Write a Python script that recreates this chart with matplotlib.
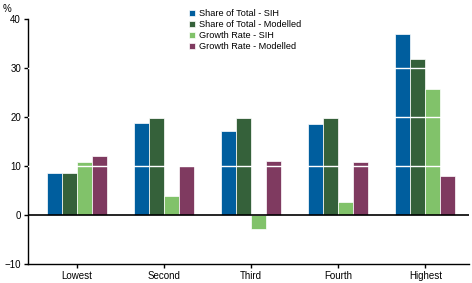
import numpy as np
import matplotlib
matplotlib.use("Agg")
import matplotlib.pyplot as plt

plt.rcParams['font.family'] = ['Liberation Sans', 'DejaVu Sans']

categories = ['Lowest', 'Second', 'Third', 'Fourth', 'Highest']
share_sih = [8.6, 18.8, 17.2, 18.6, 37.0]
share_modelled = [8.6, 19.8, 19.8, 19.8, 31.9]
growth_sih = [10.9, 3.9, -2.8, 2.7, 25.8]
growth_modelled = [12.1, 9.9, 11.1, 10.9, 8.0]

series = [
    ('Share of Total - SIH', share_sih, '#005E9E'),
    ('Share of Total - Modelled', share_modelled, '#35613A'),
    ('Growth Rate - SIH', growth_sih, '#81C26A'),
    ('Growth Rate - Modelled', growth_modelled, '#7F3A60'),
]

fig = plt.figure(figsize=(4.72, 2.83), dpi=100)
ax = fig.add_axes([28 / 472, 1 - 264 / 283, 441 / 472, 245 / 283])

x = np.arange(len(categories))
w = 0.172
for i, (name, vals, col) in enumerate(series):
    ax.bar(x + (i - 1.5) * w, vals, w, color=col, edgecolor='white',
           linewidth=0.5, label=name, zorder=2)

# white gridlines over the bars
for g in [10, 20, 30]:
    ax.axhline(g, color='white', linewidth=1.0, zorder=3)
ax.axhline(0, color='black', linewidth=1.2, zorder=4)

ax.set_xlim(-0.56, 4.5)
ax.set_ylim(-10, 40)
ax.set_yticks([-10, 0, 10, 20, 30, 40])
ax.set_xticks(x)
ax.set_xticklabels(categories)
ax.tick_params(labelsize=7, length=3, width=1, direction='out', pad=2)
for s in ['top', 'right']:
    ax.spines[s].set_visible(False)
ax.spines['left'].set_linewidth(1)
ax.spines['bottom'].set_linewidth(1)

ax.text(-0.048, 1.02, '%', transform=ax.transAxes, fontsize=7, ha='center', va='bottom')

ax.legend(loc='upper left', bbox_to_anchor=(0.365, 1.04), frameon=False, fontsize=6.6,
          handlelength=0.65, handleheight=0.65, handletextpad=0.4, labelspacing=0.22,
          borderaxespad=0, borderpad=0)

fig.savefig('out.png', dpi=100)
